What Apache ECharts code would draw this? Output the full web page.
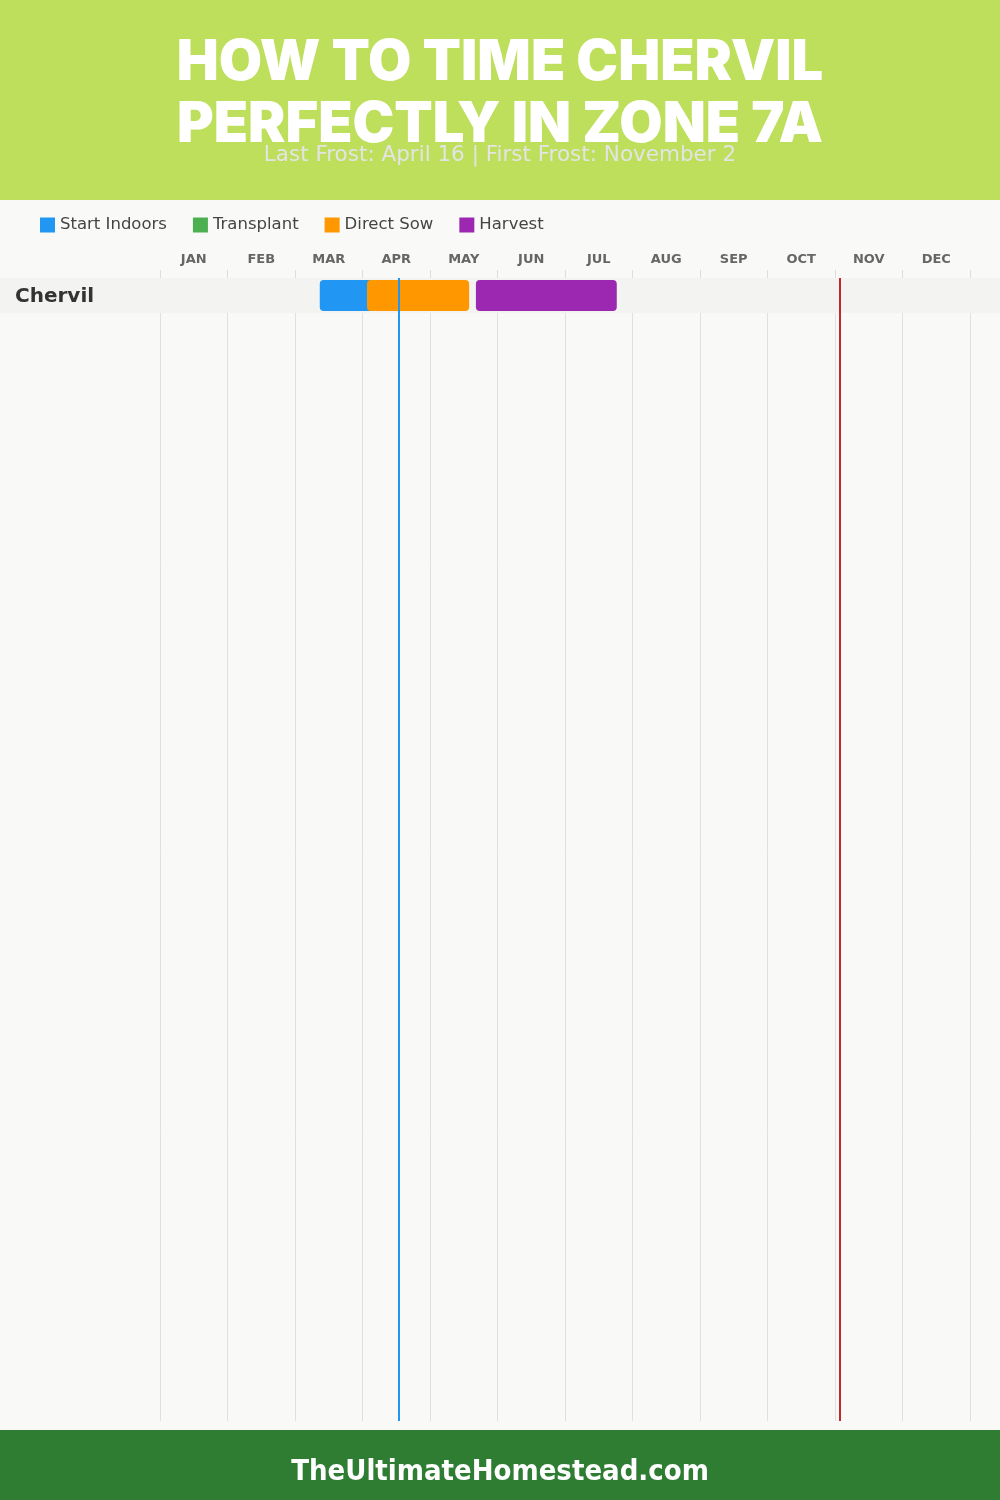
<!DOCTYPE html>
<html>
<head>
<meta charset="utf-8">
<script src="https://cdn.jsdelivr.net/npm/echarts@6/dist/echarts.min.js"></script>
<style>
html,body{margin:0;padding:0;background:#f9f9f8;}
#chart{width:1000px;height:1500px;}
</style>
</head>
<body>
<div id="chart"></div>
<script>
// ---- data (positions in months: 0 = Jan 1, value = month index + day/30) ----
const titleLines = ['HOW TO TIME CHERVIL', 'PERFECTLY IN ZONE 7A'];
const subtitle = 'Last Frost: April 16 | First Frost: November 2';
const footerText = 'TheUltimateHomestead.com';
const months = ['JAN','FEB','MAR','APR','MAY','JUN','JUL','AUG','SEP','OCT','NOV','DEC'];
const crops = ['Chervil'];
const phaseNames = ['Start Indoors', 'Transplant', 'Direct Sow', 'Harvest'];
const phaseColors = ['#2196F3', '#4CAF50', '#FF9800', '#9C27B0'];
// [start, end, cropIndex]
const startIndoors = [[2.367, 3.2, 0]];
const transplant = [];
const directSow = [[3.067, 4.58, 0]];
const harvest = [[4.68, 6.767, 0]];
const lastFrost = 3.533;   // April 16
const firstFrost = 10.067; // November 2

// ---- layout constants ----
const ROW_H = 35;
const GRID_TOP = 278, GRID_BOTTOM = 79;
const GRID_H = 1500 - GRID_TOP - GRID_BOTTOM;

const chart = echarts.init(document.getElementById('chart'));

function renderBar(params, api) {
  const r = api.value(2);
  const p0 = api.coord([api.value(0), r]);
  const p1 = api.coord([api.value(1), r + 1]);
  return {
    type: 'rect',
    shape: { x: p0[0], y: p0[1] + 2, width: p1[0] - p0[0], height: p1[1] - p0[1] - 4, r: 4 },
    style: { fill: api.visual('color') }
  };
}
function renderRow(params, api) {
  const r = api.value(0);
  const p0 = api.coord([0, r]);
  const p1 = api.coord([0, r + 1]);
  return {
    type: 'group',
    children: [
      { type: 'rect', shape: { x: 0, y: p0[1], width: api.getWidth(), height: p1[1] - p0[1] },
        style: { fill: '#f3f3f2' } },
      { type: 'text', x: 15, y: (p0[1] + p1[1]) / 2 + 1,
        style: { text: crops[r], font: 'bold 20px "DejaVu Sans", sans-serif', fill: '#333333',
                 textAlign: 'left', textVerticalAlign: 'middle' } }
    ]
  };
}

const phaseData = [startIndoors, transplant, directSow, harvest];
const series = [{
  type: 'custom', name: '_rows', renderItem: renderRow,
  data: crops.map((c, i) => [i]), silent: true, z: 1
}];
phaseNames.forEach((n, i) => {
  series.push({
    type: 'custom', name: n, renderItem: renderBar,
    itemStyle: { color: phaseColors[i] },
    data: phaseData[i], z: 2, encode: { x: [0, 1], y: 2 }
  });
});
series.push({
  type: 'custom', name: '_frost', renderItem: () => null, data: [], z: 5,
  markLine: {
    silent: true, symbol: 'none', label: { show: false },
    data: [
      { xAxis: lastFrost, lineStyle: { color: '#2196F3', width: 2, type: 'solid' } },
      { xAxis: firstFrost, lineStyle: { color: '#C62828', width: 2, type: 'solid' } }
    ]
  }
});

chart.setOption({
  animation: false,
  backgroundColor: '#f9f9f8',
  legend: {
    data: phaseNames, left: 40, top: 216.5, padding: 0, icon: 'rect', itemWidth: 15, itemHeight: 15,
    itemGap: 26, textStyle: { fontSize: 16.5, color: '#444', fontFamily: '"DejaVu Sans", sans-serif' }
  },
  grid: { left: 160, right: 30, top: GRID_TOP, bottom: GRID_BOTTOM },
  xAxis: [
    { type: 'value', min: 0, max: 12, interval: 1, position: 'bottom',
      axisLabel: { show: false }, axisTick: { show: false }, axisLine: { show: false },
      splitLine: { show: true, lineStyle: { color: '#e0e0e0', width: 1 } } },
    { type: 'category', data: months, position: 'top', boundaryGap: true,
      axisLine: { show: false },
      axisTick: { show: true, length: 8, lineStyle: { color: '#dddddd' } },
      axisLabel: { color: '#666', fontWeight: 'bold', fontSize: 13, margin: 12,
                   fontFamily: '"DejaVu Sans", sans-serif' },
      splitLine: { show: false } }
  ],
  yAxis: { type: 'value', inverse: true, min: 0, max: GRID_H / ROW_H, show: false, splitLine: { show: false } },
  graphic: [
    { type: 'rect', left: 0, top: 0, shape: { width: 1000, height: 200 }, style: { fill: '#bddf5b' }, z: -1 },
    { type: 'text', x: 500, y: 63, style: { text: titleLines[0], font: '900 56px Inter, sans-serif', fill: '#ffffff', textAlign: 'center', textVerticalAlign: 'middle' } },
    { type: 'text', x: 500, y: 125, style: { text: titleLines[1], font: '900 56px Inter, sans-serif', fill: '#ffffff', textAlign: 'center', textVerticalAlign: 'middle' } },
    { type: 'text', x: 500, y: 155, style: { text: subtitle, font: '21.5px "DejaVu Sans", sans-serif', fill: '#e4e4e4', textAlign: 'center', textVerticalAlign: 'middle' } },
    { type: 'rect', left: 0, top: 1430, shape: { width: 1000, height: 70 }, style: { fill: '#2e7d32' }, z: -1 },
    { type: 'text', x: 500, y: 1472, style: { text: footerText, font: 'bold 29px "DejaVu Sans Condensed", "DejaVu Sans", sans-serif', fill: '#ffffff', textAlign: 'center', textVerticalAlign: 'middle' } }
  ],
  series: series
});
</script>
</body>
</html>
